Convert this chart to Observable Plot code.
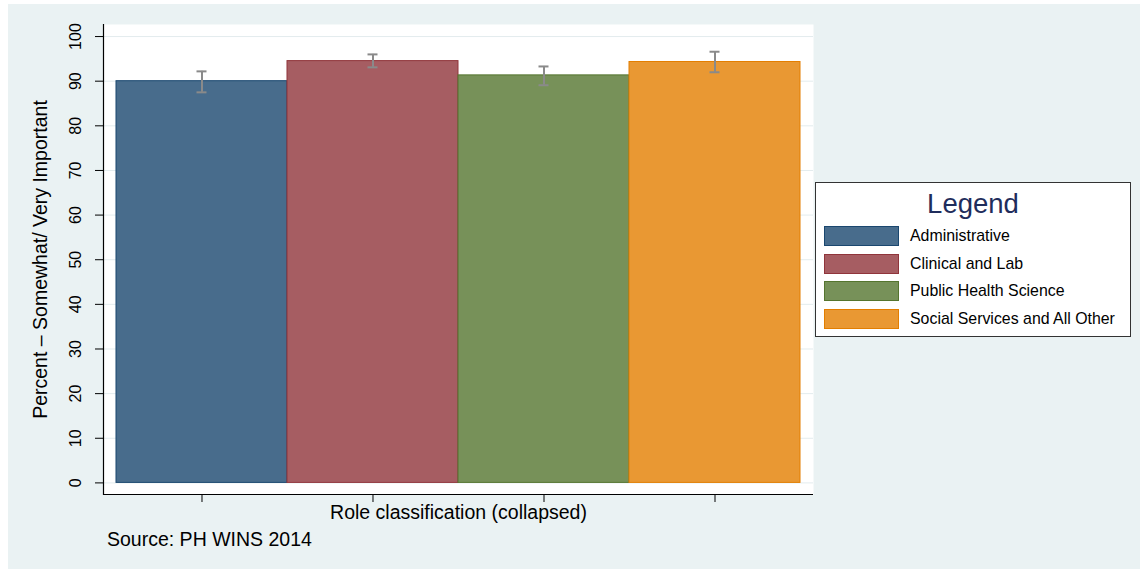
<!DOCTYPE html>
<html>
<head>
<meta charset="utf-8">
<script src="https://cdn.jsdelivr.net/npm/d3@7"></script>
<script src="https://cdn.jsdelivr.net/npm/@observablehq/plot@0.6"></script>
<style>
  body { margin: 0; background: #ffffff; font-family: "Liberation Sans", Arial, sans-serif; }
  #wrap { position: relative; width: 1143px; height: 572px; overflow: hidden; }
  #bg { position: absolute; left: 8px; top: 4px; width: 1132px; height: 565px; background: #eaf2f3; }
  #chart { position: absolute; left: 0; top: 0; }
  #legend { position: absolute; left: 815px; top: 182px; width: 314px; height: 153px; background: #fff; border: 1px solid #333; }
  #legend .title { position: absolute; left: 0; width: 100%; top: 6px; text-align: center; font-size: 27.5px; line-height: 30px; color: #1f2d5c; }
  #legend .sw { position: absolute; left: 8px; width: 73px; height: 18px; border-width: 1px; border-style: solid; }
  #legend .lab { position: absolute; left: 94px; font-size: 15.9px; line-height: 20px; color: #000; white-space: nowrap; }
  #caption { position: absolute; left: 107px; top: 528px; font-size: 19.5px; line-height: 22px; color: #000; }
</style>
</head>
<body>
<div id="wrap">
  <div id="bg"></div>
  <div id="chart"></div>
  <div id="legend"></div>
  <div id="caption"></div>
</div>
<script>
// ---- data ----
const roles = ["Administrative", "Clinical and Lab", "Public Health Science", "Social Services and All Other"];
const pct = [90.0, 94.5, 91.3, 94.3];
const ciLow = [87.5, 93.1, 89.1, 92.0];
const ciHigh = [92.2, 96.0, 93.3, 96.6];
const yTicks = [0, 10, 20, 30, 40, 50, 60, 70, 80, 90, 100];
const xTitle = "Role classification (collapsed)";
const yTitle = "Percent \u2013 Somewhat/ Very Important";
const legendTitle = "Legend";
const sourceNote = "Source: PH WINS 2014";

// ---- styles ----
const fills = ["#486c8c", "#a65d62", "#779159", "#e99833"];
const strokes = ["#1a476f", "#90353b", "#55752f", "#e37e00"];
const errColor = "#8a8a8a";
const yDomain = [-2.6, 102.7];

const data = roles.map((role, i) => ({role, value: pct[i], lo: ciLow[i], hi: ciHigh[i], fill: fills[i], stroke: strokes[i]}));

const chart = Plot.plot({
  width: 1143,
  height: 572,
  marginLeft: 103,
  marginRight: 330,
  marginTop: 24,
  marginBottom: 78,
  style: {background: "transparent", fontFamily: "Liberation Sans, Arial, sans-serif", fontSize: "16px", color: "#000", overflow: "visible"},
  x: {domain: roles, paddingInner: 0, paddingOuter: 0.076, round: false},
  y: {domain: yDomain},
  color: {type: "identity"},
  marks: [
    Plot.frame({fill: "white", stroke: null}),
    Plot.gridY(yTicks, {stroke: "#e3ecee", strokeOpacity: 1}),
    Plot.barY(data, {x: "role", y: "value", fill: "fill", stroke: "stroke", strokeWidth: 1}),
    Plot.ruleX(data, {x: "role", y1: "lo", y2: "hi", stroke: errColor, strokeWidth: 2}),
    Plot.tickY(data, {x: "role", y: "lo", stroke: errColor, strokeWidth: 2, insetLeft: 80.5, insetRight: 80.5}),
    Plot.tickY(data, {x: "role", y: "hi", stroke: errColor, strokeWidth: 2, insetLeft: 80.5, insetRight: 80.5}),
    Plot.axisY({ticks: yTicks, tickSize: 8, tickPadding: 15, tickRotate: -90, label: null}),
    Plot.axisY({ticks: [], tickSize: 0, label: yTitle, labelArrow: "none", labelAnchor: "center", labelOffset: 70, fontSize: 19.5}),
    Plot.axisX({tickSize: 8, tickFormat: () => "", label: xTitle, labelArrow: "none", labelAnchor: "center", labelOffset: 24, fontSize: 19.5}),
    Plot.frame({anchor: "left", stroke: "#000", strokeWidth: 1.2}),
    Plot.ruleY([yDomain[0]], {stroke: "#000", strokeWidth: 1.2})
  ]
});
document.getElementById("chart").appendChild(chart);

// legend (HTML, built from the same arrays)
const leg = d3.select("#legend");
leg.append("div").attr("class", "title").text(legendTitle);
const rowTops = [43, 70.5, 98, 125.5];
roles.forEach((r, i) => {
  leg.append("div").attr("class", "sw").style("top", rowTops[i] + "px")
    .style("background", fills[i]).style("border-color", strokes[i]);
  leg.append("div").attr("class", "lab").style("top", rowTops[i] + "px").text(r);
});
d3.select("#caption").text(sourceNote);
</script>
</body>
</html>
